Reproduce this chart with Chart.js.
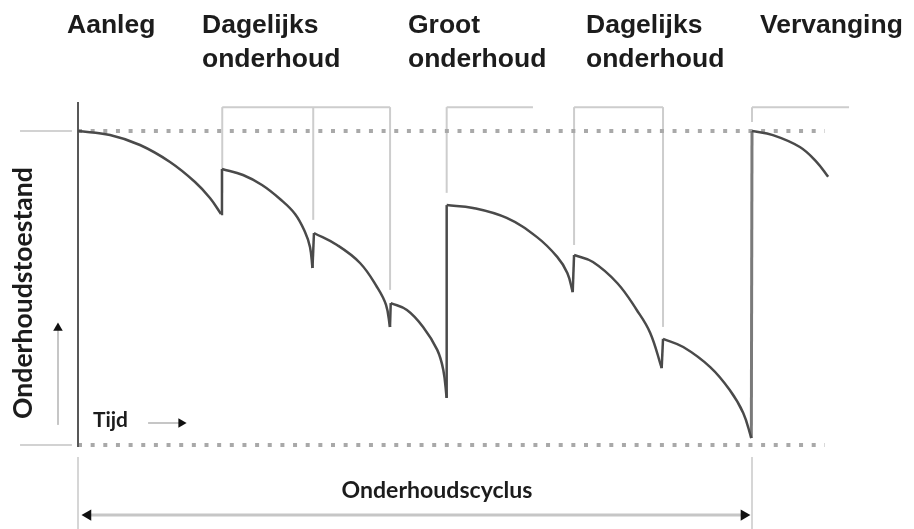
<!DOCTYPE html>
<html><head><meta charset="utf-8">
<script src="https://cdn.jsdelivr.net/npm/chart.js@4"></script>
<style>html,body{margin:0;padding:0;background:#fff;}canvas{display:block;}</style>
</head><body>
<canvas id="c" width="914" height="529"></canvas>
<script>
// ---- data (time: 0 = Aanleg, 100 = Vervanging; state: 0..100) ----
const phaseLabels = [['Aanleg'], ['Dagelijks', 'onderhoud'], ['Groot', 'onderhoud'], ['Dagelijks', 'onderhoud'], ['Vervanging']];
const arcTimes = [
  [0, 4.75, 9.2, 13.65, 17.36, 19.58, 21.22],
  [21.36, 24.48, 27.3, 29.97, 32.2, 33.68, 34.42, 34.79],
  [35.01, 38.43, 41.84, 44.36, 45.7, 46.29],
  [46.4, 48.8, 51.2, 53.3, 54.2, 54.7],
  [54.7, 58.6, 63.6, 68.1, 71.1, 72.6, 73.4],
  [73.6, 76.4, 80.0, 82.9, 84.9, 86.6],
  [86.8, 89.8, 93.8, 96.7, 98.7, 99.9],
  [100, 103.1, 107.1, 109.6, 111.3]
];
const arcStates = [
  [100, 98.73, 95.54, 90.13, 83.76, 78.66, 73.57],
  [87.9, 85.99, 82.8, 78.34, 73.57, 67.83, 63.06, 56.37],
  [67.52, 63.69, 57.96, 50.32, 44.59, 37.58],
  [45.2, 43.0, 37.6, 30.3, 23.9, 15.0],
  [76.4, 75.5, 72.3, 66.2, 59.9, 54.8, 48.7],
  [60.5, 58.3, 51.6, 43.0, 35.7, 24.5],
  [33.8, 31.2, 24.8, 17.5, 10.2, 2.2],
  [100, 98.7, 94.9, 90.1, 85.4]
];
const markerTimes = [21.4, 34.9, 46.3, 54.7, 73.6, 86.8, 100];
const markerLow = [80.3, 71.7, 49.4, 80.3, 63.7, 37.6, 102.9];
const bracketLevel = 107.6;
const bracketStart = [21.4, 54.7, 73.6, 100];
const bracketEnd = [46.3, 67.5, 86.8, 114.4];
const refLevels = [100, 0];
const refEnd = 110.8;
const cycleStart = 0, cycleEnd = 100;

// ---- build datasets ----
const curveColor = '#4a4a4a';
const ds = [];
const line = (pts, extra) => Object.assign({
  type: 'line', data: pts, parsing: false, showLine: true, pointRadius: 0,
  borderColor: curveColor, borderWidth: 2.5, fill: false, tension: 0
}, extra || {});

arcTimes.forEach((ts, i) => {
  ds.push(line(ts.map((t, k) => ({x: t, y: arcStates[i][k]})), {tension: 0.4, order: 0}));
});
for (let i = 0; i < arcTimes.length - 1; i++) {
  const a = arcTimes[i], b = arcTimes[i + 1];
  const last = a.length - 1;
  const isRenewal = i === arcTimes.length - 2;
  ds.push(line([{x: a[last], y: arcStates[i][last]}, {x: b[0], y: arcStates[i + 1][0]}],
    {order: 1, borderColor: isRenewal ? '#7a7a7a' : curveColor, borderWidth: isRenewal ? 3 : 2.5}));
}
// y axis line
ds.push(line([{x: 0, y: -0.6}, {x: 0, y: 109.2}], {borderColor: '#585858', borderWidth: 2, order: 2}));
// markers & brackets
markerTimes.forEach((t, i) => ds.push(line([{x: t, y: markerLow[i]}, {x: t, y: bracketLevel}], {borderColor: '#cdcdcd', borderWidth: 2, order: 5})));
bracketStart.forEach((t, i) => ds.push(line([{x: t, y: bracketLevel}, {x: bracketEnd[i], y: bracketLevel}], {borderColor: '#cdcdcd', borderWidth: 2, order: 5})));
// reference levels (dotted) and stubs
refLevels.forEach(v => {
  ds.push(line([{x: 0, y: v}, {x: refEnd, y: v}], {borderColor: '#a9a9a9', borderWidth: 4, borderDash: [4, 8.65], order: 4}));
  ds.push(line([{x: -8.6, y: v}, {x: -0.9, y: v}], {borderColor: '#d2d2d2', borderWidth: 2, order: 4}));
});
// lower guide lines of the cycle
[cycleStart, cycleEnd].forEach(t => ds.push(line([{x: t, y: -3.8}, {x: t, y: -27}], {borderColor: '#d6d6d6', borderWidth: 2, order: 5})));
// arrows
const arrow = (pts, radius, rot) => line(pts, {
  borderColor: '#c6c6c6', borderWidth: 2, order: 3,
  pointRadius: radius, pointStyle: 'triangle', rotation: rot,
  pointBackgroundColor: '#111', pointBorderColor: '#111', pointBorderWidth: 0
});
ds.push(arrow([{x: 10.4, y: 7.0}, {x: 15.3, y: 7.0}], [0, 5.5], 90));           // Tijd ->
ds.push(arrow([{x: -2.97, y: 6.4}, {x: -2.97, y: 37.3}], [0, 5.5], 0));          // up
ds.push(Object.assign(arrow([{x: 1.48, y: -22.3}, {x: 98.8, y: -22.3}], 6.5, [-90, 90]), {borderWidth: 3}));

// ---- text plugin ----
function fit(ctx, text, width, family) {
  ctx.font = 'bold 100px ' + family;
  return 100 * width / ctx.measureText(text).width;
}
const textPlugin = {
  id: 'texts',
  afterDatasetsDraw(chart) {
    const ctx = chart.ctx;
    ctx.save();
    ctx.fillStyle = '#1c1c1c';
    ctx.textAlign = 'left';
    ctx.textBaseline = 'alphabetic';
    ctx.font = 'bold 26.5px "Liberation Sans", Arial, sans-serif';
    const lefts = [67, 202, 408, 586, 760];
    phaseLabels.forEach((lines, i) => lines.forEach((s, j) => ctx.fillText(s, lefts[i], 33 + j * 34)));
    const fam = 'Lato, "Open Sans", sans-serif';
    let sz = fit(ctx, 'Tijd', 35, fam);
    ctx.font = 'bold ' + sz + 'px ' + fam;
    ctx.fillText('Tijd', 93, 427);
    sz = fit(ctx, 'Onderhoudscyclus', 191, fam);
    ctx.font = 'bold ' + sz + 'px ' + fam;
    ctx.textAlign = 'center';
    ctx.fillText('Onderhoudscyclus', 437, 498);
    sz = fit(ctx, 'Onderhoudstoestand', 252, fam);
    ctx.font = 'bold ' + sz + 'px ' + fam;
    ctx.translate(32, 293);
    ctx.rotate(-Math.PI / 2);
    ctx.fillText('Onderhoudstoestand', 0, 0);
    ctx.restore();
  }
};

const xMin = -78 / 6.74, xMax = xMin + 914 / 6.74;
const yMax = 100 + 131 / 3.14, yMin = -(529 - 445) / 3.14;

new Chart(document.getElementById('c'), {
  type: 'scatter',
  data: {datasets: ds},
  options: {
    responsive: false, animation: false, events: [],
    layout: {padding: 0, autoPadding: false},
    plugins: {legend: {display: false}, tooltip: {enabled: false}},
    scales: {
      x: {type: 'linear', display: false, min: xMin, max: xMax},
      y: {type: 'linear', display: false, min: yMin, max: yMax}
    }
  },
  plugins: [textPlugin]
});
</script></body></html>
